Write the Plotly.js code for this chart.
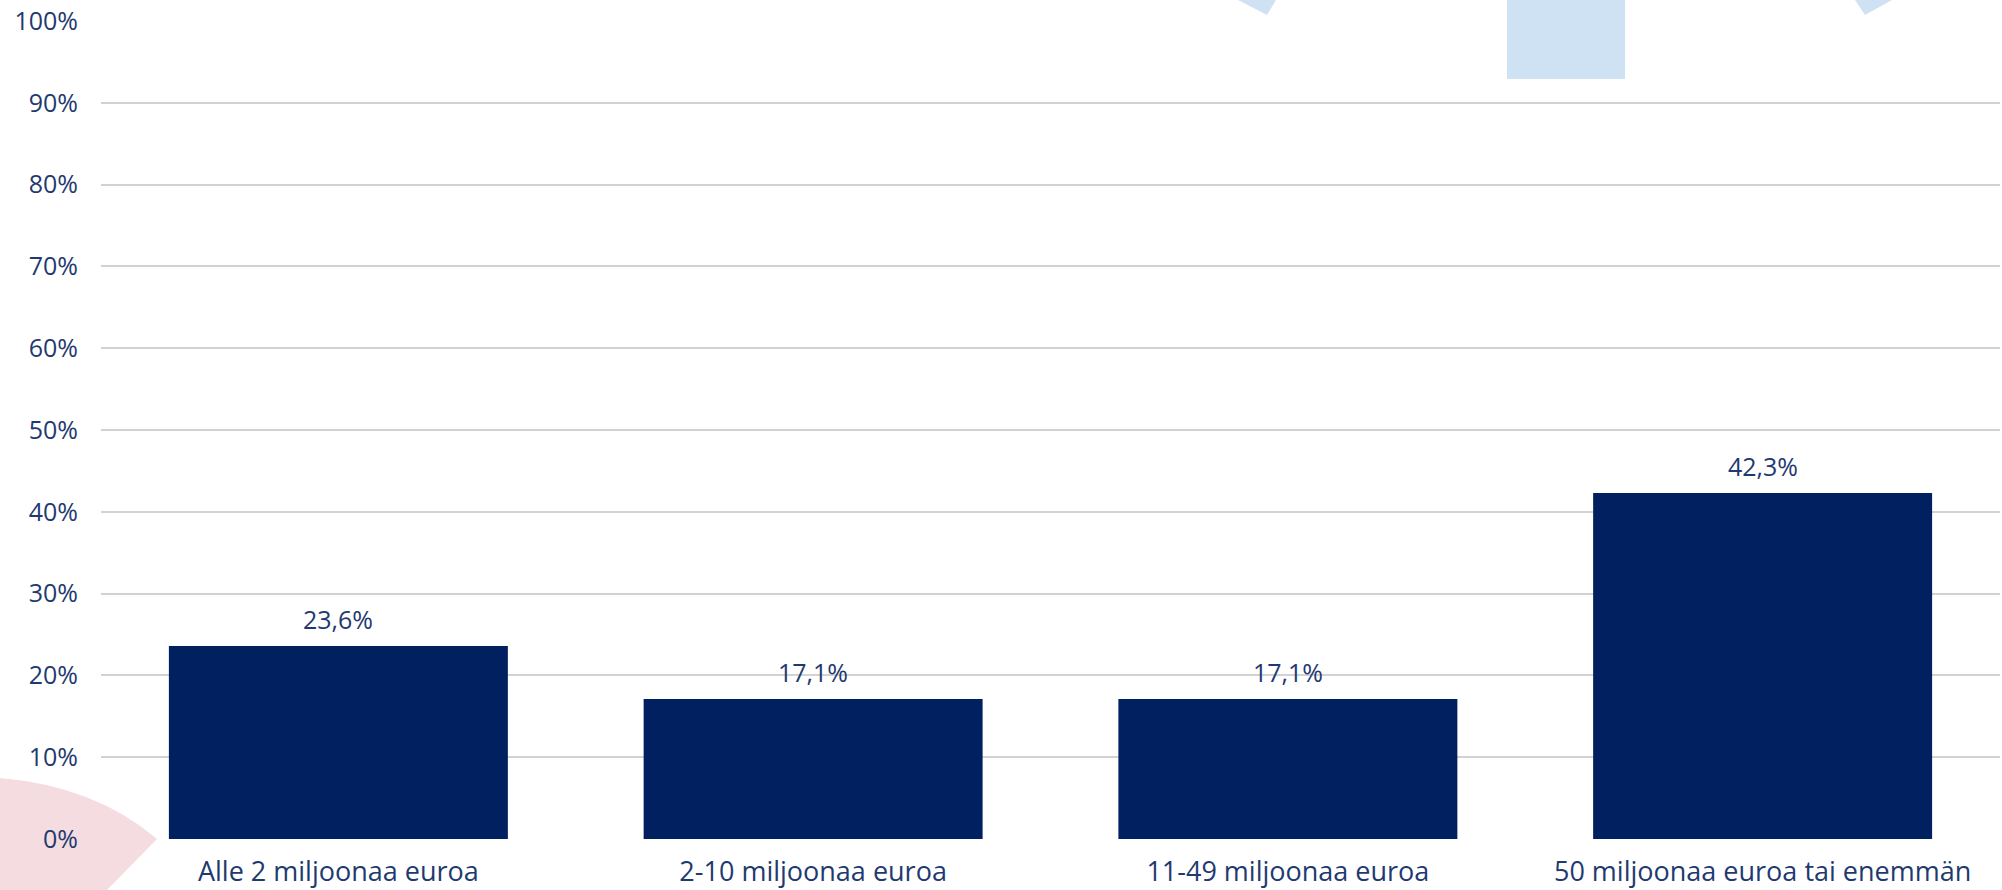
<!DOCTYPE html>
<html>
<head>
<meta charset="utf-8">
<script src="https://cdn.plot.ly/plotly-3.0.1.min.js"></script>
<style>
  html, body { margin: 0; padding: 0; background: #ffffff; }
  #chart { width: 2002px; height: 890px; }
</style>
</head>
<body>
<div id="chart"></div>
<script>
// ---- data ----
const categories = [
  "Alle 2 miljoonaa euroa",
  "2-10 miljoonaa euroa",
  "11-49 miljoonaa euroa",
  "50 miljoonaa euroa tai enemmän"
];
const values = [23.6, 17.1, 17.1, 42.3];
const yTickValues = [0, 10, 20, 30, 40, 50, 60, 70, 80, 90, 100];
const yTickLabels = ["0%", "10%", "20%", "30%", "40%", "50%", "60%", "70%", "80%", "90%", "100%"];

// ---- styling ----
const W = 2002, H = 890;
const M = { l: 101, r: 2, t: 21, b: 51 };
const barColor = "#002060";
const textColor = "#1F3A70";
const fontFamily = "'Open Sans', 'DejaVu Sans', sans-serif";

// pixel -> paper helpers for decorative shapes
const plotW = W - M.l - M.r, plotH = H - M.t - M.b;
const px = x => (x - M.l) / plotW;
const py = y => (H - M.b - y) / plotH;
const pt = (x, y) => px(x).toFixed(5) + "," + py(y).toFixed(5);

const labels = values.map(v => v.toFixed(1).replace(".", ",") + "%");

const trace = {
  type: "bar",
  x: categories,
  y: values,
  marker: { color: barColor },
  hoverinfo: "skip"
};

const annotations = categories.map((c, i) => ({
  x: c, y: values[i], xref: "x", yref: "y",
  text: labels[i], showarrow: false,
  yanchor: "bottom", yshift: 8,
  font: { family: fontFamily, size: 25, color: textColor }
}));

const shapes = [
  // pink blob bottom-left
  { type: "path", xref: "paper", yref: "paper", layer: "below",
    path: "M " + pt(0, 778) + " Q " + pt(95, 786) + " " + pt(157, 839) +
          " L " + pt(107, 890) + " L " + pt(0, 890) + " Z",
    fillcolor: "#F5DCE0", line: { width: 0 } },
  // light blue rectangle top
  { type: "rect", xref: "paper", yref: "paper", layer: "below",
    x0: px(1507), x1: px(1625), y0: py(79), y1: py(0),
    fillcolor: "#CFE2F3", line: { width: 0 } },
  // light blue pointed shapes at top
  { type: "path", xref: "paper", yref: "paper", layer: "below",
    path: "M " + pt(1238, 0) + " L " + pt(1267, 15) + " L " + pt(1276, 0) + " Z",
    fillcolor: "#CFE2F3", line: { width: 0 } },
  { type: "path", xref: "paper", yref: "paper", layer: "below",
    path: "M " + pt(1855, 0) + " L " + pt(1865, 15) + " L " + pt(1892, 0) + " Z",
    fillcolor: "#CFE2F3", line: { width: 0 } }
];

const layout = {
  width: W, height: H,
  margin: M,
  paper_bgcolor: "#ffffff",
  plot_bgcolor: "rgba(0,0,0,0)",
  showlegend: false,
  bargap: 0.286,
  font: { family: fontFamily, color: textColor },
  xaxis: {
    type: "category",
    showgrid: false, zeroline: false, showline: false,
    ticks: "", ticklabelstandoff: 14,
    tickfont: { family: fontFamily, size: 27, color: textColor },
    fixedrange: true
  },
  yaxis: {
    range: [0, 100],
    tickmode: "array", tickvals: yTickValues, ticktext: yTickLabels,
    showgrid: true, gridcolor: "#D2D2D2", gridwidth: 2,
    zeroline: false, showline: false, ticks: "",
    ticklabelstandoff: 22,
    tickfont: { family: fontFamily, size: 25, color: textColor },
    fixedrange: true
  },
  annotations: annotations,
  shapes: shapes
};

Plotly.newPlot("chart", [trace], layout, { staticPlot: true, displayModeBar: false });
</script>
</body>
</html>
